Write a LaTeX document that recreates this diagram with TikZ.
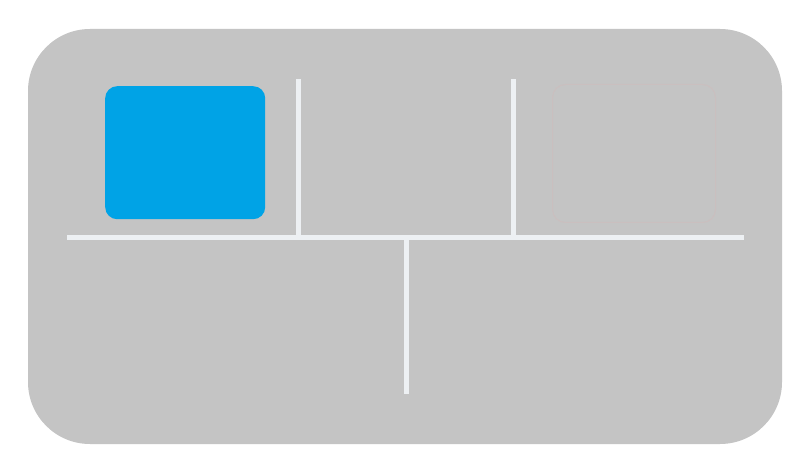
\documentclass[tikz,border=0pt]{standalone}
\begin{document}
\begin{tikzpicture}[x=1pt,y=-1pt,
  panel/.style={fill=panelgrey, draw=none},
  divider/.style={draw=dividerwhite, line width=5pt, line cap=butt},
  bluebox/.style={fill=boxblue, draw=none, rounded corners=12pt},
  ghostbox/.style={draw=ghostgrey, line width=1pt, rounded corners=13pt}]
\definecolor{panelgrey}{HTML}{C4C4C4}
\definecolor{dividerwhite}{HTML}{EDF0F3}
\definecolor{boxblue}{HTML}{00A3E6}
\definecolor{ghostgrey}{HTML}{CABFBF}
\useasboundingbox (0,0) rectangle (803,465);
\fill[white] (0,0) rectangle (803,465);
\fill[panel, rounded corners=62pt] (28,29) rectangle (782,444);
\coordinate (hl) at (67,237);
\coordinate (hr) at (744,237);
\coordinate (v1t) at (298,79);
\coordinate (v1b) at (298,237);
\coordinate (v2t) at (513,79);
\coordinate (v2b) at (513,237);
\coordinate (v3t) at (406,237);
\coordinate (v3b) at (406,394);
\draw[divider] (hl) -- (hr);
\draw[divider] (v1t) -- (v1b);
\draw[divider] (v2t) -- (v2b);
\draw[divider] (v3t) -- (v3b);
\node[bluebox, minimum width=160pt, minimum height=133pt, inner sep=0pt, anchor=north west] (blue) at (105,86) {};
\node[ghostbox, minimum width=163pt, minimum height=138pt, inner sep=0pt, anchor=north west] (ghost) at (552,84) {};
\end{tikzpicture}
\end{document}
